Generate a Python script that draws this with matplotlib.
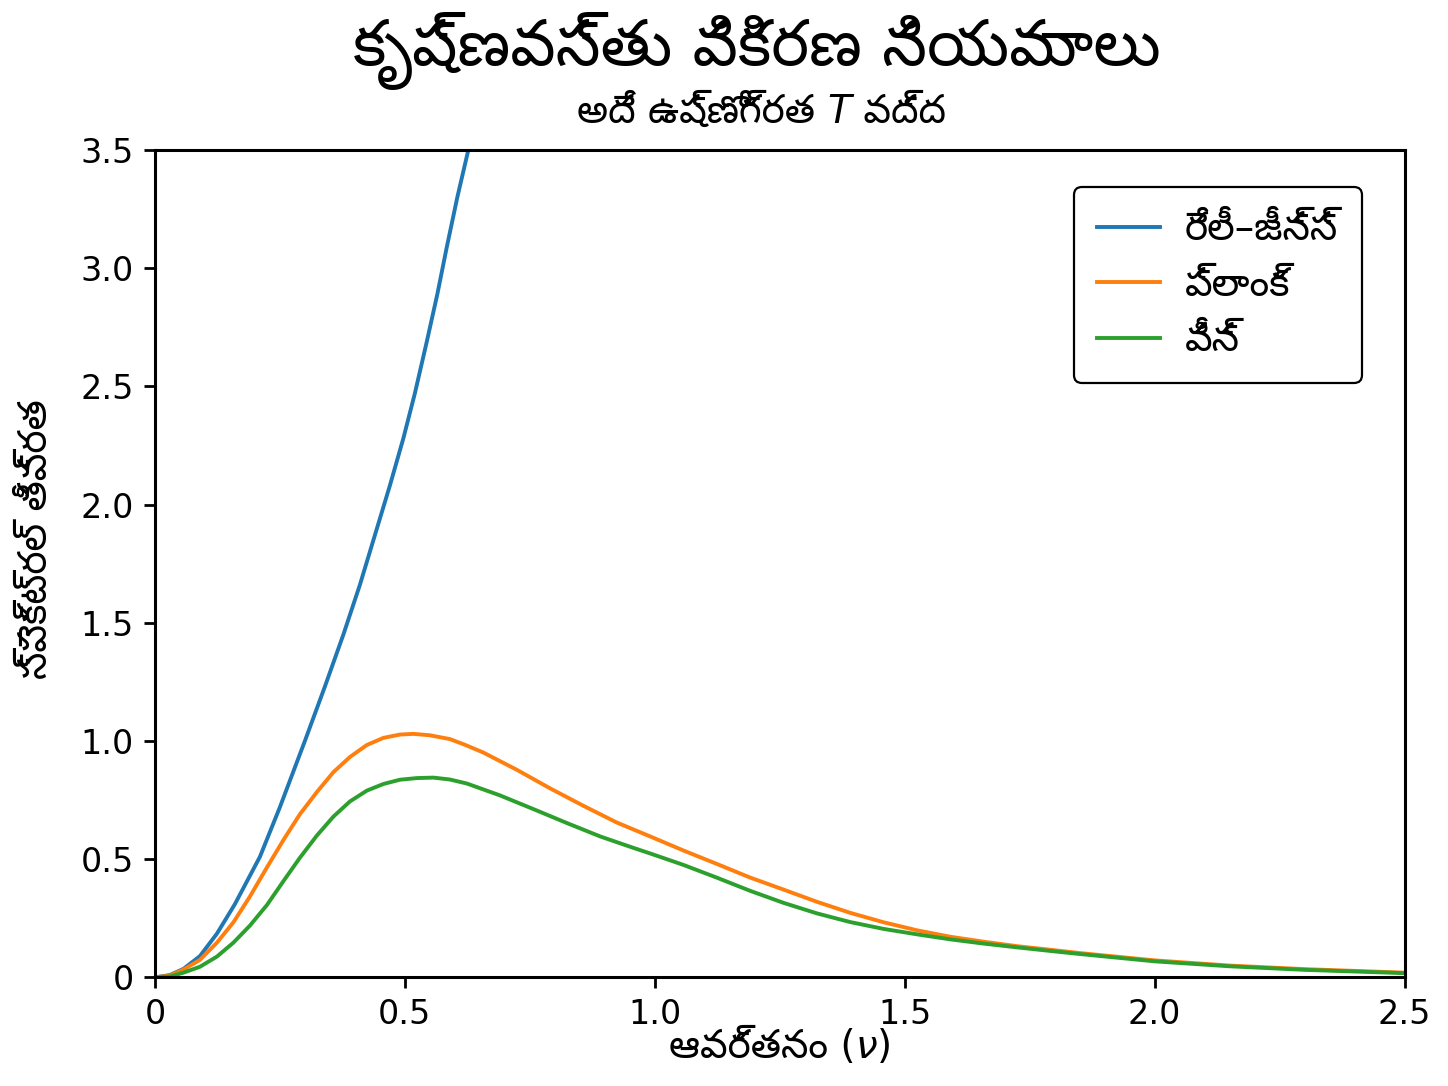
import matplotlib
matplotlib.use("Agg")
import matplotlib.pyplot as plt
from matplotlib import font_manager
from matplotlib.ft2font import FT2Font
from matplotlib.offsetbox import TextArea, HPacker, AnchoredOffsetbox

# values (frequency in arbitrary units)
rj_nu = [0, 0.03, 0.057, 0.09, 0.124, 0.16, 0.19, 0.21, 0.25, 0.30, 0.34,
         0.377, 0.41, 0.44, 0.47, 0.497, 0.52, 0.544, 0.565, 0.584, 0.605, 0.627]
rj_vals = [0, 0.01, 0.036, 0.09, 0.185, 0.31, 0.43, 0.51, 0.72, 1.0, 1.23,
           1.45, 1.66, 1.87, 2.08, 2.28, 2.47, 2.69, 2.89, 3.09, 3.30, 3.50]

planck_nu = [0, 0.03, 0.057, 0.09, 0.124, 0.157, 0.19, 0.224, 0.257, 0.29,
             0.324, 0.357, 0.39, 0.424, 0.457, 0.49, 0.517, 0.55, 0.59, 0.62,
             0.657, 0.724, 0.791, 0.857, 0.924, 0.991, 1.057, 1.124, 1.191,
             1.258, 1.324, 1.391, 1.458, 1.525, 1.591, 1.658, 1.725, 1.791,
             1.85, 2.0, 2.15, 2.3, 2.5]
planck_vals = [0, 0.008, 0.033, 0.074, 0.147, 0.233, 0.342, 0.465, 0.581, 0.690,
               0.784, 0.868, 0.932, 0.983, 1.013, 1.027, 1.030, 1.024, 1.008, 0.984,
               0.951, 0.878, 0.799, 0.726, 0.655, 0.596, 0.537, 0.480, 0.422,
               0.371, 0.320, 0.273, 0.233, 0.199, 0.172, 0.151, 0.132, 0.117,
               0.103, 0.072, 0.050, 0.035, 0.020]

wien_nu = [0, 0.03, 0.057, 0.09, 0.124, 0.157, 0.19, 0.224, 0.257, 0.29,
           0.324, 0.357, 0.39, 0.424, 0.457, 0.49, 0.524, 0.557, 0.59, 0.624,
           0.69, 0.757, 0.824, 0.891, 0.957, 0.991, 1.057, 1.124, 1.191, 1.258,
           1.324, 1.391, 1.458, 1.525, 1.591, 1.658, 1.725, 1.791, 1.85,
           2.0, 2.15, 2.3, 2.5]
wien_vals = [0, 0.004, 0.020, 0.045, 0.088, 0.147, 0.219, 0.306, 0.407, 0.506,
             0.600, 0.680, 0.744, 0.790, 0.818, 0.836, 0.843, 0.845, 0.837, 0.820,
             0.770, 0.712, 0.653, 0.596, 0.548, 0.524, 0.476, 0.422, 0.366, 0.315,
             0.271, 0.234, 0.205, 0.182, 0.161, 0.143, 0.127, 0.112, 0.099,
             0.068, 0.047, 0.032, 0.018]

series_labels = ["రేలీ–జీన్స్", "ప్లాంక్", "వీన్"]
x_ticks = [0, 0.5, 1.0, 1.5, 2.0, 2.5]
x_tick_labels = ["0", "0.5", "1.0", "1.5", "2.0", "2.5"]
y_ticks = [0, 0.5, 1.0, 1.5, 2.0, 2.5, 3.0, 3.5]
y_tick_labels = ["0", "0.5", "1.0", "1.5", "2.0", "2.5", "3.0", "3.5"]


def telugu_fonts():
    # every installed font that has Telugu glyphs
    found = []
    for f in font_manager.fontManager.ttflist:
        try:
            if 0x0C15 in FT2Font(f.fname).get_charmap():
                found.append(f.name)
        except Exception:
            continue
    return found


tel_list = telugu_fonts()
tel = None
for want in ["Noto Sans Telugu", "Noto Sans Telugu UI", "Mandali", "Hind Guntur",
             "NTR", "Anek Telugu", "Ramaraja", "Suranna"]:
    if want in tel_list:
        tel = want
        break
if tel is None:
    rest = [n for n in tel_list if "unifont" not in n.lower()]
    tel = rest[0] if rest else (tel_list[0] if tel_list else None)

families = ["DejaVu Sans"]
if tel:
    families.append(tel)
plt.rcParams["font.family"] = families

fig = plt.figure(figsize=(7.24, 5.43), dpi=200)
ax = fig.add_axes([0.107, 0.100, 0.863, 0.762])

ax.plot(rj_nu, rj_vals, color="#1f77b4", lw=1.4, label=series_labels[0])
ax.plot(planck_nu, planck_vals, color="#ff7f0e", lw=1.4, label=series_labels[1])
ax.plot(wien_nu, wien_vals, color="#2ca02c", lw=1.4, label=series_labels[2])

ax.set_xlim(0, 2.5)
ax.set_ylim(0, 3.5)
ax.set_xticks(x_ticks)
ax.set_xticklabels(x_tick_labels)
ax.set_yticks(y_ticks)
ax.set_yticklabels(y_tick_labels)
ax.tick_params(labelsize=12, length=4, width=1.0)
for s in ax.spines.values():
    s.set_linewidth(1.1)

ax.set_ylabel("స్పెక్ట్రల్ తీవ్రత", fontsize=14)
ax.yaxis.set_label_coords(-0.080, 0.53)


def mixed_text(parts, size, loc_xy):
    # parts: list of (text, italic)
    boxes = [TextArea(t, textprops=dict(fontsize=size, style="italic" if it else "normal"))
             for t, it in parts]
    pack = HPacker(children=boxes, align="baseline", pad=0, sep=0)
    anch = AnchoredOffsetbox(loc="center", child=pack, frameon=False, pad=0,
                             bbox_to_anchor=loc_xy, bbox_transform=fig.transFigure,
                             borderpad=0)
    fig.add_artist(anch)


fig.text(0.523, 0.953, "కృష్ణవస్తు వికిరణ నియమాలు", ha="center", va="center", fontsize=23)
mixed_text([("అదే ఉష్ణోగ్రత ", False), ("T", True), (" వద్ద", False)], 14, (0.526, 0.897))
mixed_text([("ఆవర్తనం (", False), ("ν", True), (")", False)], 14, (0.539, 0.036))

leg = ax.legend(loc="upper right", fontsize=14, handlelength=1.6, labelspacing=0.45,
                borderpad=0.6, handletextpad=0.65, bbox_to_anchor=(0.9656, 0.955),
                borderaxespad=0, edgecolor="black", framealpha=1.0)
leg.get_frame().set_linewidth(0.8)

fig.savefig("out.png", dpi=200)
